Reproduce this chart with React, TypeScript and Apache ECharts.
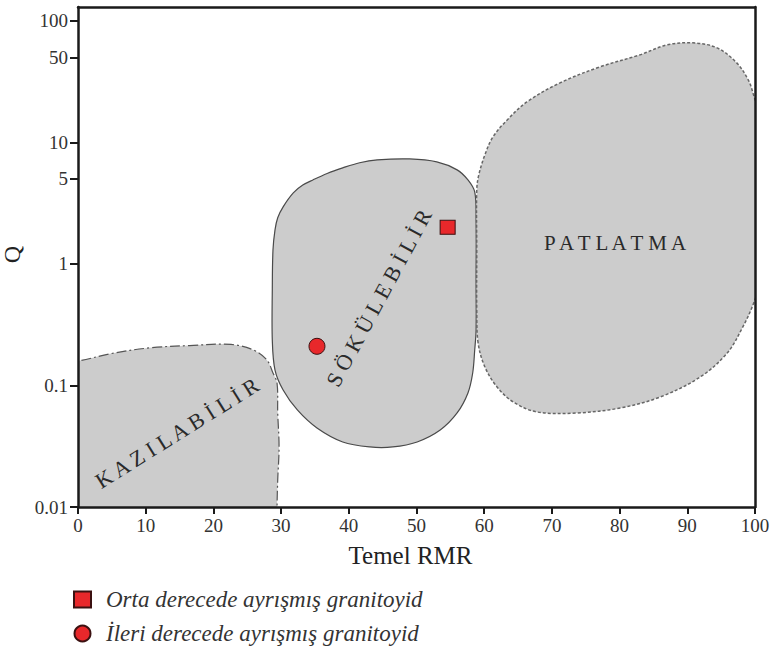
import React, { useEffect, useRef } from 'react';
import * as echarts from 'echarts';

// ---- data (RMR, Q) ----
const Y_TICK_VALUES = [0.01, 0.1, 1, 5, 10, 50, 100];
const Y_TICK_LABELS = ['0.01', '0.1', '1', '5', '10', '50', '100'];
const X_MIN = 0;
const X_MAX = 100;
const X_INTERVAL = 10;
const Q_MIN = 0.01;
const Q_MAX = 130;

const KAZILABILIR: [number, number][] = [
  [-2, 0.159], [0, 0.159], [4.7, 0.182], [10.6, 0.204], [16.5, 0.213], [22.6, 0.2175],
  [25.9, 0.196], [27.9, 0.162], [28.8, 0.1267], [29.4, 0.1048], [29.5, 0.0594],
  [29.7, 0.0312], [29.5, 0.0167], [29.4, 0.01], [29.4, 0.007], [-2, 0.007],
];

const SOKULEBILIR: [number, number][] = [
  [29.1, 1.905], [29.5, 2.4], [30.3, 2.95], [31.8, 3.84], [33.2, 4.45], [34.7, 4.91],
  [36.8, 5.55], [39.1, 6.17], [41.6, 6.8], [44.2, 7.18], [49.0, 7.31], [53.0, 6.91],
  [56.0, 5.94], [57.6, 4.91], [58.6, 3.91], [58.8, 2.3], [58.8, 0.738], [58.8, 0.286],
  [58.6, 0.196], [58.3, 0.1267], [57.6, 0.0868], [56.0, 0.0594], [53.5, 0.043],
  [50.1, 0.0343], [46.5, 0.0312], [43.1, 0.0312], [39.1, 0.0343], [35.3, 0.0447],
  [32.4, 0.0629], [30.3, 0.0918], [29.1, 0.134], [28.7, 0.237], [28.7, 0.611], [28.8, 1.3],
];

const PATLATMA: [number, number][] = [
  [59.1, 0.224], [58.9, 0.418], [58.9, 1.3], [58.9, 4.06], [59.2, 5.4], [60.1, 7.89],
  [61.3, 11.1], [63.4, 15.3], [66.3, 21.5], [71.2, 30.9], [77.1, 41.8], [83.0, 52.5],
  [87.0, 63.4], [90.8, 65.9], [94.4, 59.9], [97.3, 45.1], [99.0, 32.7], [99.7, 25.5],
  [100.3, 18.5], [100.3, 3.36], [100.3, 0.611], [99.7, 0.46], [98.2, 0.303],
  [95.9, 0.185], [91.9, 0.1174], [86.0, 0.0804], [80.1, 0.0653], [73.7, 0.0594],
  [67.8, 0.0605], [64.3, 0.0731], [61.9, 0.0972], [60.1, 0.142],
];

const ORTA: [number, number][] = [[54.6, 2.0]];
const ILERI: [number, number][] = [[35.3, 0.21]];

const SERIES_NAMES = ['Orta derecede ayrışmış granitoyid', 'İleri derecede ayrışmış granitoyid'];
const REGION_NAMES = ['KAZILABİLİR', 'SÖKÜLEBİLİR', 'PATLATMA'];
const X_NAME = 'Temel RMR';
const Y_NAME = 'Q';

const FONT = '"Liberation Serif", "Times New Roman", serif';
const lg = (v: number) => Math.log10(v);
const spaced = (s: string) => Array.from(s).join(' ');

function regionSeries(name: string, pts: [number, number][], stroke: string, width: number, dash: number[] | null) {
  return {
    type: 'custom',
    name,
    silent: true,
    clip: true,
    z: 1,
    coordinateSystem: 'cartesian2d',
    data: pts.map((p) => [p[0], lg(p[1])]),
    encode: { x: 0, y: 1 },
    renderItem: (params: any, api: any) => {
      if (params.dataIndex !== 0) return null;
      const points = pts.map((p) => api.coord([p[0], lg(p[1])]));
      return {
        type: 'polygon',
        shape: { points, smooth: 0.35 },
        style: {
          fill: '#cccccc',
          stroke,
          lineWidth: width,
          lineDash: dash || undefined,
        },
      };
    },
  };
}

function regionLabel(text: string, x: number, y: number, deg: number, size: number) {
  return {
    type: 'text',
    x,
    y,
    z: 100,
    zlevel: 0,
    rotation: (deg * Math.PI) / 180,
    silent: true,
    style: {
      text,
      fontFamily: FONT,
      fontSize: size,
      fill: '#2a2a2a',
      textAlign: 'center',
      textVerticalAlign: 'middle',
      align: 'center',
      verticalAlign: 'middle',
    },
  };
}

export default function App() {
  const ref = useRef<HTMLDivElement>(null);

  useEffect(() => {
    if (!ref.current) return;
    const chart = echarts.init(ref.current, undefined, { renderer: 'svg' });
    const yCustom = Y_TICK_VALUES.map(lg);
    const yFormatter = (v: number) => {
      const i = yCustom.findIndex((t) => Math.abs(t - v) < 1e-6);
      return i >= 0 ? Y_TICK_LABELS[i] : '';
    };
    const axisLineStyle = { color: '#1a1a1a', width: 2.5 };
    const labelStyle = { fontFamily: FONT, fontSize: 19, color: '#333' };

    chart.setOption({
      animation: false,
      backgroundColor: '#ffffff',
      grid: { left: 78, top: 7, width: 677, height: 500, containLabel: false, outerBoundsMode: 'none' },
      xAxis: [
        {
          type: 'value',
          min: X_MIN,
          max: X_MAX,
          interval: X_INTERVAL,
          z: 10,
          name: X_NAME,
          nameLocation: 'middle',
          nameGap: 36,
          nameTextStyle: { fontFamily: FONT, fontSize: 25, color: '#222', padding: [0, 12, 0, 0] },
          axisLine: { show: true, onZero: false, lineStyle: axisLineStyle },
          axisTick: { show: true, inside: false, length: 7, lineStyle: { color: '#1a1a1a', width: 2 } },
          axisLabel: { ...labelStyle, margin: 9 },
          splitLine: { show: false },
        },
        {
          type: 'value',
          position: 'top',
          min: X_MIN,
          max: X_MAX,
          z: 10,
          axisLine: { show: true, onZero: false, lineStyle: axisLineStyle },
          axisTick: { show: false },
          axisLabel: { show: false },
          splitLine: { show: false },
        },
      ],
      yAxis: [
        {
          type: 'value',
          min: lg(Q_MIN),
          max: lg(Q_MAX),
          z: 10,
          name: Y_NAME,
          nameLocation: 'middle',
          nameGap: 40,
          nameRotate: 90,
          nameTextStyle: { fontFamily: FONT, fontSize: 24, color: '#222', padding: [0, 0, 0, 5] },
          axisLine: { show: true, onZero: false, lineStyle: axisLineStyle },
          axisTick: { show: true, inside: false, length: 8, lineStyle: { color: '#1a1a1a', width: 2 }, customValues: yCustom },
          axisLabel: { ...labelStyle, margin: 10, customValues: yCustom, formatter: yFormatter },
          splitLine: { show: false },
        },
        {
          type: 'value',
          position: 'right',
          min: lg(Q_MIN),
          max: lg(Q_MAX),
          z: 10,
          axisLine: { show: true, onZero: false, lineStyle: axisLineStyle },
          axisTick: { show: false },
          axisLabel: { show: false },
          splitLine: { show: false },
        },
      ],
      legend: {
        orient: 'vertical',
        left: 73,
        top: 588,
        padding: 0,
        itemWidth: 17,
        itemHeight: 16,
        itemGap: 11,
        selectedMode: false,
        textStyle: { fontFamily: FONT, fontStyle: 'italic', fontSize: 23, color: '#333', padding: [0, 0, 0, 10] },
        data: [
          { name: SERIES_NAMES[0], icon: 'rect' },
          { name: SERIES_NAMES[1], icon: 'circle' },
        ],
      },
      series: [
        regionSeries('kazilabilir', KAZILABILIR, '#555555', 1.2, [10, 3, 2, 3]),
        regionSeries('sokulebilir', SOKULEBILIR, '#4a4a4a', 1.2, null),
        regionSeries('patlatma', PATLATMA, '#666666', 1.5, [3, 2]),
        {
          type: 'scatter',
          name: SERIES_NAMES[0],
          symbol: 'rect',
          symbolSize: [15, 14],
          z: 5,
          data: ORTA.map((p) => [p[0], lg(p[1])]),
          itemStyle: { color: '#e8282b', borderColor: '#3b1111', borderWidth: 1, opacity: 1 },
        },
        {
          type: 'scatter',
          name: SERIES_NAMES[1],
          symbol: 'circle',
          symbolSize: 16,
          z: 5,
          data: ILERI.map((p) => [p[0], lg(p[1])]),
          itemStyle: { color: '#e8282b', borderColor: '#3b1111', borderWidth: 1, opacity: 1 },
        },
      ],
      graphic: {
        elements: [
          regionLabel(spaced(REGION_NAMES[0]), 177, 433, 32, 22),
          regionLabel(spaced(REGION_NAMES[1]), 379, 298, 61.6, 22),
          regionLabel(spaced(REGION_NAMES[2]), 615, 243, 0, 21),
        ],
      },
    });
    return () => chart.dispose();
  }, []);

  return (
    <div
      ref={ref}
      style={{ position: 'absolute', left: 0, top: 0, width: 771, height: 655, background: '#fff' }}
    />
  );
}
